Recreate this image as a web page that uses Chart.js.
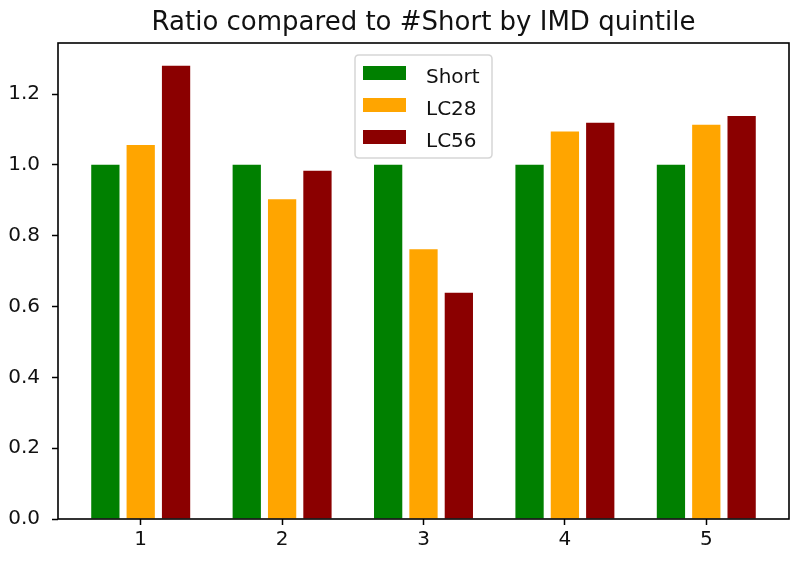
<!DOCTYPE html>
<html>
<head>
<meta charset="utf-8">
<script src="https://cdn.jsdelivr.net/npm/chart.js@4"></script>
<style>
  html, body { margin: 0; padding: 0; background: #fff; }
  #wrap { width: 800px; height: 562px; }
</style>
</head>
<body>
<div id="wrap"><canvas id="c" width="800" height="562"></canvas></div>
<script>
const titleText = 'Ratio compared to #Short by IMD quintile';
const categories = [1, 2, 3, 4, 5];
const seriesNames = ['Short', 'LC28', 'LC56'];
const shortValues = [1.0, 1.0, 1.0, 1.0, 1.0];
const lc28Values = [1.056, 0.903, 0.762, 1.094, 1.113];
const lc56Values = [1.280, 0.983, 0.639, 1.119, 1.138];
const seriesColors = ['#008000', '#FFA500', '#8B0000'];
const yTicks = [0.0, 0.2, 0.4, 0.6, 0.8, 1.0, 1.2];

const allSeries = [shortValues, lc28Values, lc56Values];
const datasets = allSeries.map((vals, i) => ({
  label: seriesNames[i],
  data: categories.map((c, j) => ({ x: c, y: vals[j] })),
  backgroundColor: seriesColors[i],
  borderWidth: 0,
  categoryPercentage: 0.75,
  barPercentage: 0.8
}));

const FONT = '"DejaVu Sans", sans-serif';

const framePlugin = {
  id: 'frameTitleLegend',
  afterDraw(chart) {
    const ctx = chart.ctx;
    const a = chart.chartArea;
    ctx.save();
    // frame
    ctx.strokeStyle = '#000';
    ctx.lineWidth = 1.6;
    ctx.strokeRect(a.left, a.top, a.right - a.left, a.bottom - a.top);
    // title
    ctx.fillStyle = '#111';
    ctx.font = '26px ' + FONT;
    ctx.textAlign = 'center';
    ctx.textBaseline = 'alphabetic';
    ctx.fillText(titleText, (a.left + a.right) / 2, 30);
    // legend
    const cx = (a.left + a.right) / 2;
    const bw = 137, bh = 103;
    const bx = cx - bw / 2, by = a.top + 12;
    ctx.beginPath();
    const r = 4;
    ctx.moveTo(bx + r, by);
    ctx.lineTo(bx + bw - r, by);
    ctx.quadraticCurveTo(bx + bw, by, bx + bw, by + r);
    ctx.lineTo(bx + bw, by + bh - r);
    ctx.quadraticCurveTo(bx + bw, by + bh, bx + bw - r, by + bh);
    ctx.lineTo(bx + r, by + bh);
    ctx.quadraticCurveTo(bx, by + bh, bx, by + bh - r);
    ctx.lineTo(bx, by + r);
    ctx.quadraticCurveTo(bx, by, bx + r, by);
    ctx.closePath();
    ctx.fillStyle = 'rgba(255,255,255,0.8)';
    ctx.fill();
    ctx.strokeStyle = '#d6d6d6';
    ctx.lineWidth = 1.5;
    ctx.stroke();
    ctx.font = '20px ' + FONT;
    ctx.textAlign = 'left';
    chart.data.datasets.forEach((ds, i) => {
      const cy = by + 18 + i * 32;
      ctx.fillStyle = ds.backgroundColor;
      ctx.fillRect(bx + 8, cy - 7, 43, 14);
      ctx.fillStyle = '#111';
      ctx.fillText(ds.label, bx + 71, cy + 10);
    });
    ctx.restore();
  }
};

new Chart(document.getElementById('c'), {
  type: 'bar',
  data: { datasets },
  plugins: [framePlugin],
  options: {
    responsive: false,
    animation: false,
    layout: { padding: { top: 43, right: 11, left: 0, bottom: 0 } },
    plugins: {
      legend: { display: false },
      title: { display: false },
      tooltip: { enabled: false }
    },
    scales: {
      x: {
        type: 'linear',
        min: 0.415,
        max: 5.585,
        offset: false,
        afterFit(s) { s.height = 43; },
        afterBuildTicks(s) { s.ticks = categories.map(v => ({ value: v })); },
        border: { display: false },
        grid: { display: true, offset: false, drawOnChartArea: false, drawTicks: true, tickLength: 6, tickColor: '#000', tickWidth: 1.5 },
        ticks: {
          color: '#111',
          font: { family: FONT, size: 20 },
          padding: 3,
          callback: v => String(v)
        }
      },
      y: {
        min: 0,
        max: 1.344,
        afterFit(s) { s.width = 58; },
        afterBuildTicks(s) { s.ticks = yTicks.map(v => ({ value: v })); },
        border: { display: false },
        grid: { display: true, offset: false, drawOnChartArea: false, drawTicks: true, tickLength: 6, tickColor: '#000', tickWidth: 1.5 },
        ticks: {
          color: '#111',
          font: { family: FONT, size: 20 },
          padding: 12,
          callback: v => Number(v).toFixed(1)
        }
      }
    }
  }
});
</script>
</body>
</html>
